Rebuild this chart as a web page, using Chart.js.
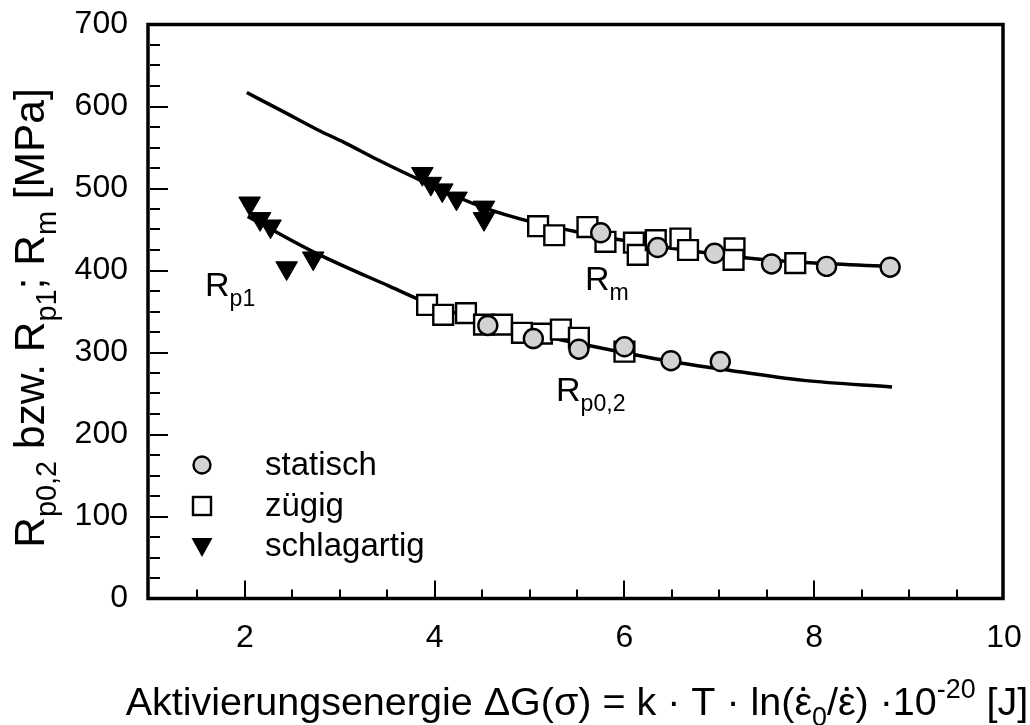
<!DOCTYPE html>
<html><head><meta charset="utf-8">
<script src="https://cdn.jsdelivr.net/npm/chart.js@4/dist/chart.umd.min.js"></script>
<style>html,body{margin:0;padding:0;background:#fff}#wrap{width:1030px;height:725px}</style>
</head><body><div id="wrap"><canvas id="c" width="1030" height="725"></canvas></div>
<script>
// ---- data ----
const xTickLabels = [2, 4, 6, 8, 10];
const yTickLabels = [0, 100, 200, 300, 400, 500, 600, 700];

// fitted curves
const rmFitX = [2.02, 2.40, 2.76, 3.05, 3.40, 3.87, 4.51, 5.03, 5.73, 6.40, 6.90, 7.40, 8.00, 8.82];
const rmFitY = [617, 594, 572, 556, 535, 509, 477, 459, 442, 429, 421, 414, 409, 405];
const rpFitX = [2.03, 2.70, 3.52, 4.04, 4.97, 5.56, 6.49, 7.01, 7.89, 8.82];
const rpFitY = [466, 424, 381, 355, 325, 310, 289, 280, 266, 258];

// statisch (circles)
const statRmX = [5.75, 6.35, 6.95, 7.55, 8.13, 8.80];
const statRmY = [446, 428, 421, 408, 405, 404];
const statRpX = [4.56, 5.04, 5.52, 6.00, 6.49, 7.01];
const statRpY = [333, 317, 304, 307, 290, 289];

// zügig (squares)
const zugRmX = [5.09, 5.26, 5.61, 5.80, 6.10, 6.14, 6.33, 6.59, 6.67, 7.16, 7.15, 7.80];
const zugRmY = [454, 443, 453, 435, 434, 419, 437, 439, 425, 427, 413, 409];
const zugRpX = [3.92, 4.09, 4.33, 4.52, 4.71, 4.92, 5.13, 5.33, 5.52, 6.00];
const zugRpY = [358, 346, 348, 334, 334, 324, 323, 328, 318, 301];

// schlagartig (triangles)
const schRmX = [3.87, 3.96, 4.08, 4.23, 4.52, 4.52];
const schRmY = [518, 506, 498, 488, 477, 463];
const schRpX = [2.05, 2.16, 2.27, 2.44, 2.72];
const schRpY = [482, 463, 454, 403, 415];

const legendLabels = ['statisch', 'zügig', 'schlagartig'];

const FONT = "'Liberation Sans', Arial, Helvetica, sans-serif";
const pts = (xs, ys) => xs.map((x, i) => ({x: x, y: ys[i]}));

const circleStyle = {pointStyle: 'circle', pointRadius: 9.5, pointBackgroundColor: '#d2d2d2', pointBorderColor: '#000', pointBorderWidth: 2.4, showLine: false};
const squareStyle = {pointStyle: 'rect', pointRadius: 14, pointBackgroundColor: '#fff', pointBorderColor: '#000', pointBorderWidth: 2.4, showLine: false};
const triStyle = {pointStyle: 'triangle', pointRotation: 180, pointRadius: 12.5, pointBackgroundColor: '#000', pointBorderColor: '#000', pointBorderWidth: 1, showLine: false};
const lineStyle = {showLine: true, pointRadius: 0, borderColor: '#000', borderWidth: 3.5, cubicInterpolationMode: 'monotone', fill: false};

// segments: k = 'n' normal, 'sub', 'sup'; dot = true puts a dot over the glyph
function drawRich(ctx, segs, x, y, size, align) {
  const sub = size * 0.68;
  let w = 0;
  const items = segs.map(s => {
    const fs = s.k === 'n' ? size : sub;
    ctx.font = fs + 'px ' + FONT;
    const mw = ctx.measureText(s.t).width;
    w += mw;
    return {t: s.t, k: s.k, fs: fs, w: mw, dot: s.dot};
  });
  let cx = align === 'center' ? x - w / 2 : x;
  ctx.textBaseline = 'alphabetic';
  ctx.textAlign = 'left';
  items.forEach(it => {
    ctx.font = it.fs + 'px ' + FONT;
    let dy = 0;
    if (it.k === 'sub') dy = size * 0.28;
    if (it.k === 'sup') dy = -size * 0.42;
    ctx.fillText(it.t, cx, y + dy);
    if (it.dot) {
      ctx.beginPath();
      ctx.arc(cx + it.w / 2, y + dy - size * 0.66, size * 0.055, 0, Math.PI * 2);
      ctx.fill();
    }
    cx += it.w;
  });
}

const decor = {
  id: 'decor',
  afterDraw(chart) {
    const ctx = chart.ctx;
    const a = chart.chartArea;
    const xs = chart.scales.x, ys = chart.scales.y;
    ctx.save();
    ctx.strokeStyle = '#000';
    ctx.fillStyle = '#000';
    // ticks (inward)
    ctx.lineWidth = 2;
    ctx.beginPath();
    for (let v = 25; v < 700; v += 25) {
      const py = Math.round(ys.getPixelForValue(v));
      const len = (v % 100 === 0) ? 18 : 10;
      ctx.moveTo(a.left, py); ctx.lineTo(a.left + len, py);
    }
    for (let v = 1.5; v < 10; v += 0.5) {
      const px = Math.round(xs.getPixelForValue(v));
      const len = (v % 2 === 0) ? 18 : 9;
      ctx.moveTo(px, a.bottom); ctx.lineTo(px, a.bottom - len);
    }
    ctx.stroke();
    // frame
    ctx.lineWidth = 3.5;
    ctx.strokeRect(a.left - 2, a.top, a.right - a.left + 1, a.bottom - a.top);

    // legend
    const lx = 202, ly = [465, 506, 546], tx = 265;
    ctx.lineWidth = 2.4;
    ctx.beginPath(); ctx.arc(lx, ly[0], 8.5, 0, Math.PI * 2);
    ctx.fillStyle = '#d2d2d2'; ctx.fill(); ctx.stroke();
    ctx.fillStyle = '#fff';
    ctx.fillRect(lx - 9, ly[1] - 9, 18, 18); ctx.strokeRect(lx - 9, ly[1] - 9, 18, 18);
    ctx.fillStyle = '#000';
    ctx.beginPath(); ctx.moveTo(lx - 10.5, ly[2] - 8); ctx.lineTo(lx + 10.5, ly[2] - 8); ctx.lineTo(lx, ly[2] + 11); ctx.closePath(); ctx.fill();
    ctx.font = '33px ' + FONT;
    ctx.textBaseline = 'middle';
    ctx.textAlign = 'left';
    legendLabels.forEach((t, i) => ctx.fillText(t, tx, ly[i] + 1));

    // curve labels
    drawRich(ctx, [{t: 'R', k: 'n'}, {t: 'm', k: 'sub'}], 585, 290, 34, 'left');
    drawRich(ctx, [{t: 'R', k: 'n'}, {t: 'p1', k: 'sub'}], 205, 296, 34, 'left');
    drawRich(ctx, [{t: 'R', k: 'n'}, {t: 'p0,2', k: 'sub'}], 556, 401, 34, 'left');

    // x title
    drawRich(ctx, [
      {t: 'Aktivierungsenergie \u0394G(\u03c3) = k \u00b7 T \u00b7 ln(', k: 'n'},
      {t: '\u03b5', k: 'n', dot: true},
      {t: '0', k: 'sub'},
      {t: '/', k: 'n'},
      {t: '\u03b5', k: 'n', dot: true},
      {t: ') \u00b710', k: 'n'},
      {t: '-20', k: 'sup'},
      {t: ' [J]', k: 'n'}
    ], (a.left + a.right) / 2, 715, 39.5, 'center');

    // y title
    ctx.save();
    ctx.translate(44, 318);
    ctx.rotate(-Math.PI / 2);
    drawRich(ctx, [
      {t: 'R', k: 'n'}, {t: 'p0,2', k: 'sub'},
      {t: ' bzw. R', k: 'n'}, {t: 'p1', k: 'sub'},
      {t: '; R', k: 'n'}, {t: 'm', k: 'sub'},
      {t: ' [MPa]', k: 'n'}
    ], 0, 0, 42.5, 'center');
    ctx.restore();
    ctx.restore();
  }
};

new Chart(document.getElementById('c'), {
  type: 'scatter',
  data: {
    datasets: [
      Object.assign({label: 'statisch', data: pts(statRmX, statRmY)}, circleStyle),
      Object.assign({label: 'statisch Rp', data: pts(statRpX, statRpY)}, circleStyle),
      Object.assign({label: 'zügig', data: pts(zugRmX, zugRmY)}, squareStyle),
      Object.assign({label: 'zügig Rp', data: pts(zugRpX, zugRpY)}, squareStyle),
      Object.assign({label: 'schlagartig', data: pts(schRmX, schRmY)}, triStyle),
      Object.assign({label: 'schlagartig Rp1', data: pts(schRpX, schRpY)}, triStyle),
      Object.assign({label: 'Rm fit', data: pts(rmFitX, rmFitY)}, lineStyle),
      Object.assign({label: 'Rp fit', data: pts(rpFitX, rpFitY)}, lineStyle)
    ]
  },
  options: {
    responsive: false,
    animation: false,
    devicePixelRatio: 1,
    layout: {padding: {top: 24.5, right: 26, left: 0, bottom: 0}},
    plugins: {legend: {display: false}, tooltip: {enabled: false}, title: {display: false}},
    scales: {
      x: {
        type: 'linear', min: 1, max: 10,
        afterBuildTicks: s => { s.ticks = xTickLabels.map(v => ({value: v})); },
        afterFit: s => { s.height = 126.5; s.paddingLeft = 0; s.paddingRight = 0; },
        grid: {display: false, drawTicks: false},
        border: {display: false},
        ticks: {color: '#000', font: {family: FONT, size: 32}, padding: 20, maxRotation: 0}
      },
      y: {
        type: 'linear', min: 0, max: 700,
        afterBuildTicks: s => { s.ticks = yTickLabels.map(v => ({value: v})); },
        afterFit: s => { s.width = 150; s.paddingTop = 0; s.paddingBottom = 0; },
        grid: {display: false, drawTicks: false},
        border: {display: false},
        ticks: {color: '#000', font: {family: FONT, size: 32}, padding: 22}
      }
    }
  },
  plugins: [decor]
});
</script></body></html>
